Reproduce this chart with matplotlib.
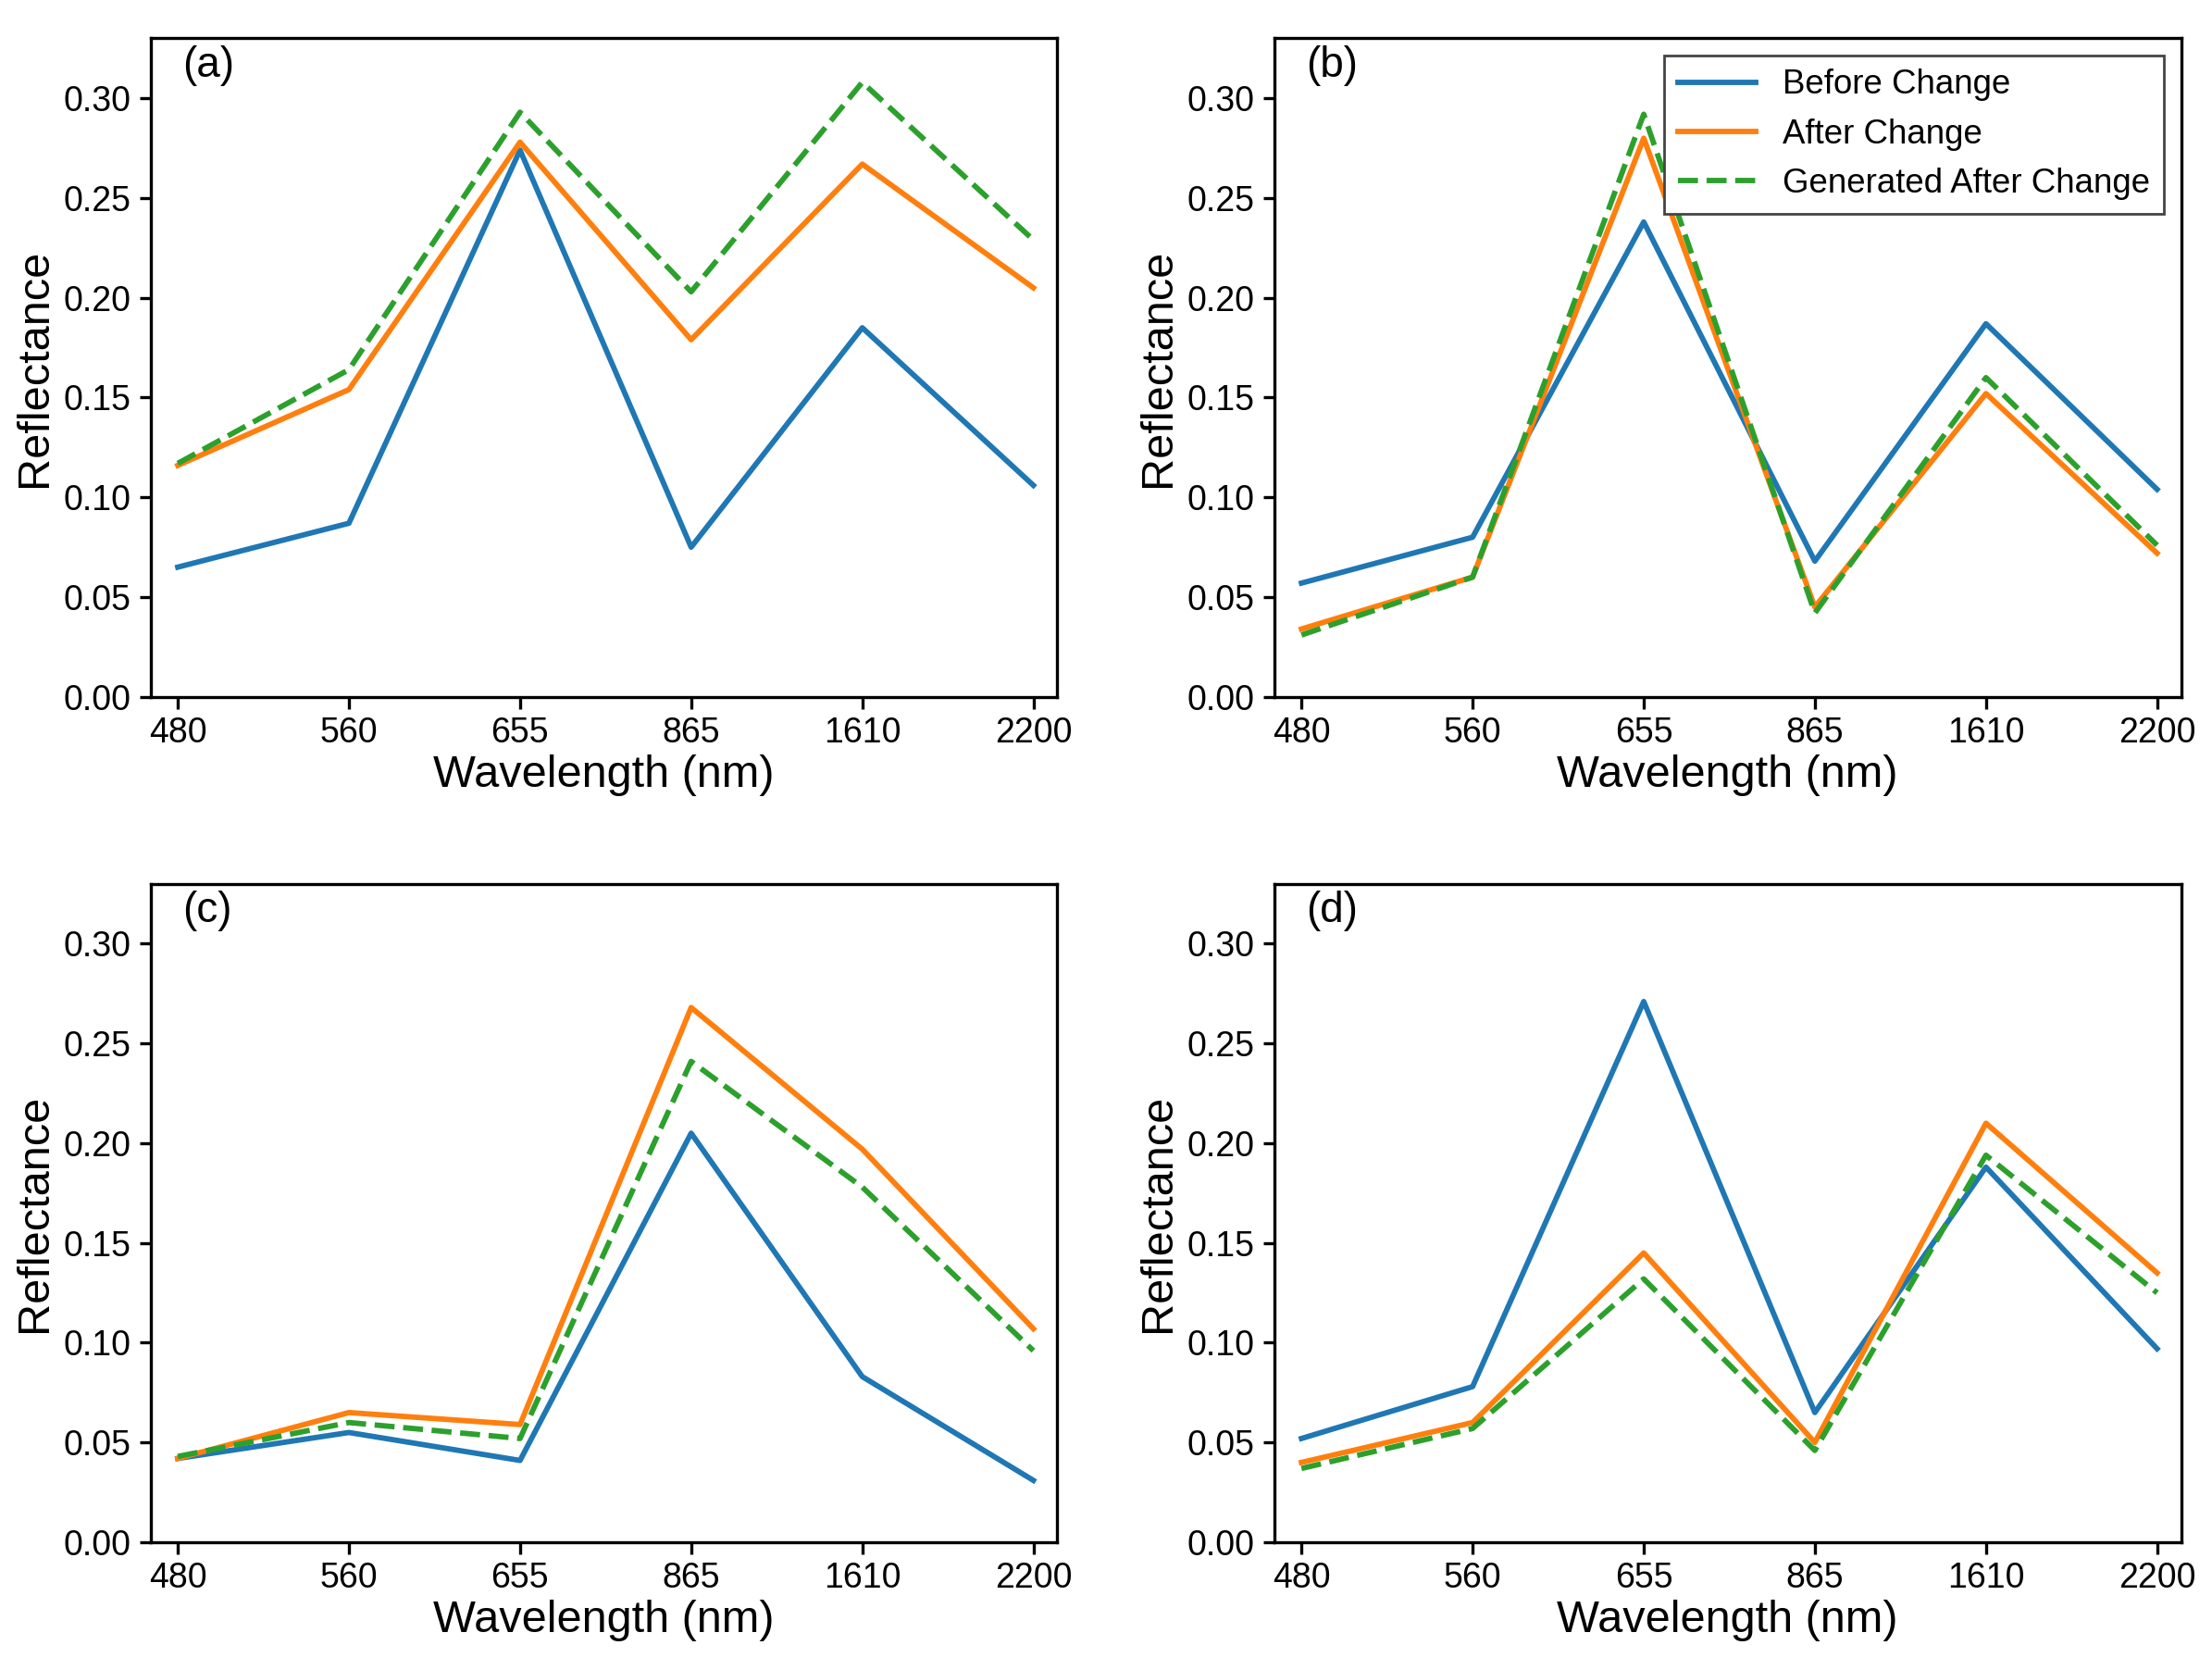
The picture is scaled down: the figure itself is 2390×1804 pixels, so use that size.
import numpy as np
import matplotlib
matplotlib.use("Agg")
import matplotlib.pyplot as plt

plt.rcParams['font.family'] = ['Liberation Sans', 'DejaVu Sans']

wavelengths = ["480", "560", "655", "865", "1610", "2200"]
panel_labels = ["(a)", "(b)", "(c)", "(d)"]

before_a = [0.065, 0.087, 0.274, 0.075, 0.185, 0.106]
after_a = [0.116, 0.154, 0.278, 0.179, 0.267, 0.205]
gen_a = [0.117, 0.164, 0.293, 0.203, 0.308, 0.229]

before_b = [0.057, 0.080, 0.238, 0.068, 0.187, 0.104]
after_b = [0.034, 0.060, 0.280, 0.045, 0.152, 0.072]
gen_b = [0.031, 0.060, 0.292, 0.042, 0.160, 0.076]

before_c = [0.042, 0.055, 0.041, 0.205, 0.083, 0.031]
after_c = [0.042, 0.065, 0.059, 0.268, 0.197, 0.107]
gen_c = [0.043, 0.060, 0.052, 0.241, 0.178, 0.096]

before_d = [0.052, 0.078, 0.271, 0.065, 0.188, 0.097]
after_d = [0.040, 0.060, 0.145, 0.050, 0.210, 0.135]
gen_d = [0.037, 0.057, 0.132, 0.046, 0.194, 0.125]

panels = [
    (before_a, after_a, gen_a),
    (before_b, after_b, gen_b),
    (before_c, after_c, gen_c),
    (before_d, after_d, gen_d),
]

fig, axes = plt.subplots(2, 2, figsize=(11.95, 9.02), dpi=200)
fig.subplots_adjust(left=0.068, right=0.986, top=0.977, bottom=0.0765,
                    wspace=0.239, hspace=0.284)

x = np.arange(len(wavelengths))
for i, ax in enumerate(axes.flat):
    before, after, gen = panels[i]
    ax.plot(x, before, color='#1f77b4', lw=2.1, label='Before Change')
    ax.plot(x, after, color='#ff7f0e', lw=2.1, label='After Change')
    ax.plot(x, gen, color='#2ca02c', lw=2.1, ls='--', label='Generated After Change')
    ax.set_xticks(x)
    ax.set_xticklabels(wavelengths)
    ax.set_xlim(-0.16, 5.14)
    ax.set_ylim(0, 0.33)
    ax.set_yticks(np.arange(0, 0.31, 0.05))
    ax.set_yticklabels([f"{v:.2f}" for v in np.arange(0, 0.31, 0.05)])
    ax.tick_params(labelsize=13.5, width=1.2, length=4.5, pad=3)
    for s in ax.spines.values():
        s.set_linewidth(1.2)
    ax.set_xlabel('Wavelength (nm)', fontsize=17.5, labelpad=2)
    ax.set_ylabel('Reflectance', fontsize=17.5, labelpad=3)
    ax.text(0.035, 0.99, panel_labels[i], transform=ax.transAxes,
            fontsize=16.5, va='top', ha='left')
    if i == 1:
        leg = ax.legend(loc='upper right', fontsize=13.2, fancybox=False,
                        edgecolor='#444444', framealpha=1, borderaxespad=0.5,
                        handlelength=2.3)
        leg.get_frame().set_linewidth(1.0)

fig.savefig('out.png', dpi=200)
